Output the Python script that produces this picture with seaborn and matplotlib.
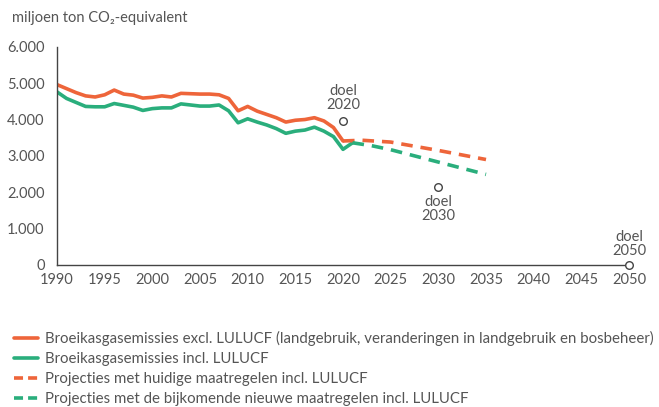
import matplotlib
matplotlib.use("Agg")
import matplotlib.pyplot as plt
import seaborn as sns
import pandas as pd

# waarden (miljoen ton CO2-eq)
jaren_hist = list(range(1990, 2021))
excl_lulucf = [4.96, 4.85, 4.74, 4.65, 4.62, 4.68, 4.81, 4.70, 4.67, 4.59,
               4.61, 4.65, 4.62, 4.72, 4.71, 4.70, 4.70, 4.68, 4.58, 4.24,
               4.36, 4.23, 4.14, 4.05, 3.93, 3.98, 4.00, 4.05, 3.96, 3.78,
               3.41]
excl_lulucf = [v * 1000 for v in excl_lulucf]

jaren_incl = list(range(1990, 2022))
incl_lulucf = [4.76, 4.58, 4.47, 4.36, 4.35, 4.35, 4.44, 4.39, 4.34, 4.25,
               4.30, 4.32, 4.32, 4.43, 4.40, 4.37, 4.37, 4.40, 4.24, 3.91,
               4.02, 3.93, 3.85, 3.75, 3.62, 3.68, 3.71, 3.79, 3.68, 3.53,
               3.18, 3.36]
incl_lulucf = [v * 1000 for v in incl_lulucf]

jaren_proj_huidig = [2020, 2022, 2025, 2030, 2035]
proj_huidig = [3410, 3430, 3380, 3150, 2900]

jaren_proj_nieuw = [2021, 2023, 2025, 2030, 2035]
proj_nieuw = [3360, 3280, 3170, 2830, 2490]

doel_jaren = [2020, 2030, 2050]
doel_waarden = [3950, 2140, 0]
doel_labels = ["doel\n2020", "doel\n2030", "doel\n2050"]

ROOD = "#EE653A"
GROEN = "#2AAE7C"
TEKST = "#555555"

sns.set_style("white")
plt.rcParams["font.family"] = ["Lato", "DejaVu Sans"]

fig = plt.figure(figsize=(6.59, 4.07), dpi=100)
ax = fig.add_axes([0.0865, 0.349, 0.868, 0.536])

sns.lineplot(x=jaren_hist, y=excl_lulucf, ax=ax, color=ROOD, linewidth=2.6,
             label="Broeikasgasemissies excl. LULUCF (landgebruik, veranderingen in landgebruik en bosbeheer)")
sns.lineplot(x=jaren_incl, y=incl_lulucf, ax=ax, color=GROEN, linewidth=2.6,
             label="Broeikasgasemissies incl. LULUCF")
sns.lineplot(x=jaren_proj_huidig, y=proj_huidig, ax=ax, color=ROOD, linewidth=2.6,
             label="Projecties met huidige maatregelen incl. LULUCF")
sns.lineplot(x=jaren_proj_nieuw, y=proj_nieuw, ax=ax, color=GROEN, linewidth=2.6,
             label="Projecties met de bijkomende nieuwe maatregelen incl. LULUCF")
ax.lines[2].set_linestyle((0, (3.2, 2.2)))
ax.lines[3].set_linestyle((0, (3.2, 2.2)))

doelen = pd.DataFrame({"jaar": doel_jaren, "waarde": doel_waarden})
sns.scatterplot(data=doelen, x="jaar", y="waarde", ax=ax, s=30, facecolor="white",
                edgecolor="#444444", linewidth=1.0, zorder=5, clip_on=False)

offsets = [(0, 7, "bottom"), (0, -6, "top"), (0, 5, "bottom")]
for jr, val, lab, (dx, dy, va) in zip(doel_jaren, doel_waarden, doel_labels, offsets):
    ax.annotate(lab, (jr, val), xytext=(dx, dy), textcoords="offset points",
                ha="center", va=va, fontsize=10.5, color=TEKST, linespacing=1.0)

ax.set_xlim(1990, 2050)
ax.set_ylim(0, 6000)
ax.set_xlabel("")
ax.set_ylabel("")
ax.set_xticks(range(1990, 2051, 5))
ax.set_yticks(range(0, 6001, 1000))
ax.set_yticklabels([f"{v:,}".replace(",", ".") for v in range(0, 6001, 1000)])
ax.tick_params(axis="both", length=0, labelsize=10.5, labelcolor=TEKST)
ax.tick_params(axis="y", pad=9)
ax.tick_params(axis="x", pad=6)
sns.despine(ax=ax)
for s in ["left", "bottom"]:
    ax.spines[s].set_color("#444444")
    ax.spines[s].set_linewidth(1.0)

fig.text(0.018, 0.955, "miljoen ton CO₂-equivalent", fontsize=10.5, color=TEKST,
         va="center", ha="left")

leg = ax.legend(loc="upper left", bbox_to_anchor=(0.022, 0.187), bbox_transform=fig.transFigure,
                frameon=False, fontsize=10.8, handlelength=1.6, handletextpad=0.45,
                labelspacing=0.4, borderpad=0, borderaxespad=0)
for t in leg.get_texts():
    t.set_color(TEKST)
# twee streepjes in de legenda voor de projecties
for h in leg.get_lines()[2:]:
    h.set_linestyle((0, (2.5, 1.4)))

fig.savefig("out.png", dpi=100)
